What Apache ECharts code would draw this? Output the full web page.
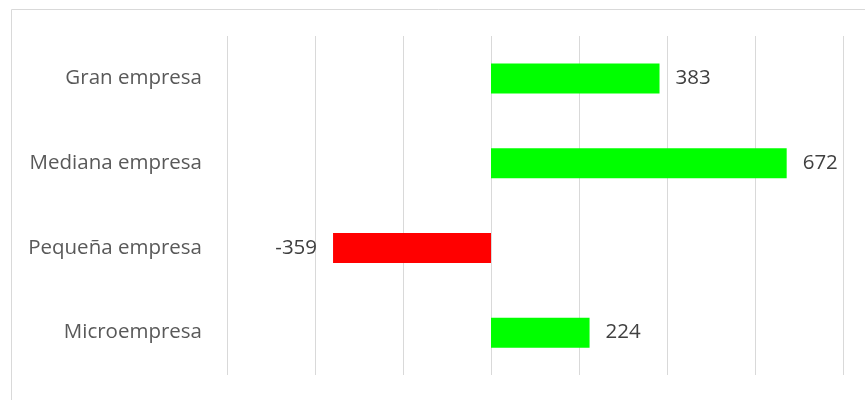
<!DOCTYPE html>
<html lang="es">
<head>
    <meta charset="UTF-8">
    <title>Empresas</title>
    <script src="https://cdn.jsdelivr.net/npm/echarts@6/dist/echarts.min.js"></script>
    <style>
        html, body { margin: 0; padding: 0; background: #fff; }
        #container { width: 865px; height: 400px; }
    </style>
</head>
<body>
<div id="container"></div>
<script>
    var categories = ['Microempresa', 'Pequeña empresa', 'Mediana empresa', 'Gran empresa'];
    var values = [224, -359, 672, 383];
    var axisMin = -600;
    var axisMax = 800;
    var axisStep = 200;

    var myChart = echarts.init(document.getElementById('container'));
    var font = '"Open Sans", sans-serif';

    var option = {
        animation: false,
        graphic: [{
            type: 'rect',
            left: 9, top: 7,
            shape: { width: 900, height: 420 },
            style: { fill: 'none', stroke: '#d9d9d9', lineWidth: 1 }
        }],
        grid: { left: 227, right: 22, top: 36, bottom: 25 },
        xAxis: {
            type: 'value',
            min: axisMin, max: axisMax, interval: axisStep,
            axisLabel: { show: false },
            axisLine: { show: false },
            axisTick: { show: false },
            splitLine: { lineStyle: { color: '#d9d9d9', width: 1 } }
        },
        yAxis: {
            type: 'category',
            data: categories,
            axisLine: { show: false },
            axisTick: { show: false },
            axisLabel: { color: '#595959', fontSize: 20.5, fontFamily: font, margin: 25 }
        },
        series: [{
            type: 'bar',
            data: values.map(function (v) {
                return {
                    value: v,
                    itemStyle: { color: v < 0 ? '#ff0000' : '#00ff00' },
                    label: { position: v < 0 ? 'left' : 'right' }
                };
            }),
            barWidth: 30,
            label: {
                show: true,
                distance: 16,
                color: '#404040',
                fontSize: 20.5,
                fontFamily: font
            }
        }]
    };
    myChart.setOption(option);
</script>
</body>
</html>
